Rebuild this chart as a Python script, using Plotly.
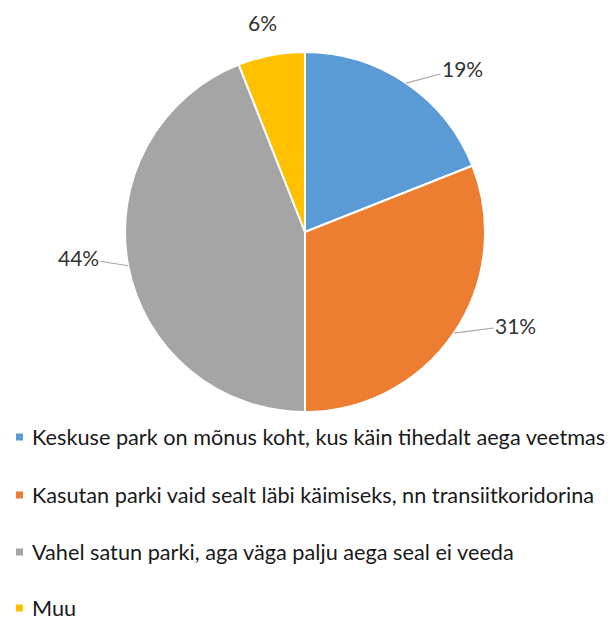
import math
import plotly.graph_objects as go

labels = [
    "Keskuse park on mõnus koht, kus käin tihedalt aega veetmas",
    "Kasutan parki vaid sealt läbi käimiseks, nn transiitkoridorina",
    "Vahel satun parki, aga väga palju aega seal ei veeda",
    "Muu",
]
values = [19, 31, 44, 6]
colors = ["#5B9BD5", "#ED7D31", "#A5A5A5", "#FFC000"]

W, H = 613, 625
cx, cy, R = 305, 232, 180  # pie centre / radius in pixels

fig = go.Figure(go.Pie(
    labels=labels, values=values, sort=False, direction="clockwise", rotation=0,
    marker=dict(colors=colors, line=dict(color="white", width=2)),
    textinfo="none", hoverinfo="label+percent", showlegend=False,
    domain=dict(x=[(cx - R) / W, (cx + R) / W], y=[1 - (cy + R) / H, 1 - (cy - R) / H]),
))

# label offsets (pixels) from slice edge
offsets = [(56, -15), (62, -8), (-50, -8), (-9, -33)]
arrows = [True, True, True, False]
total = sum(values)
cum = 0
anns = []
for v, (ax, ay), arr in zip(values, offsets, arrows):
    mid = (cum + v / 2) / total * 2 * math.pi
    cum += v
    px = cx + R * math.sin(mid)
    py = cy - R * math.cos(mid)
    anns.append(dict(
        x=px / W, y=1 - py / H, xref="paper", yref="paper",
        text=f"{round(v / total * 100)}%", showarrow=True, arrowhead=0,
        arrowwidth=1.2, arrowcolor="#A6A6A6" if arr else "rgba(0,0,0,0)",
        ax=ax, ay=ay, font=dict(family="Lato", size=21, color="#333333"),
    ))

# manual legend
rows = [437, 495, 552, 608]
shapes = []
for lab, col, ry in zip(labels, colors, rows):
    shapes.append(dict(type="rect", xref="paper", yref="paper",
                       x0=16 / W, x1=23 / W, y0=1 - (ry + 3.5) / H, y1=1 - (ry - 3.5) / H,
                       fillcolor=col, line=dict(width=0)))
    anns.append(dict(x=30 / W, y=1 - ry / H, xref="paper", yref="paper",
                     xanchor="left", yanchor="middle", showarrow=False, text=lab,
                     font=dict(family="Lato", size=21.7, color="#1a1a1a")))

fig.update_layout(
    width=W, height=H, margin=dict(l=0, r=0, t=0, b=0),
    paper_bgcolor="white", plot_bgcolor="white",
    annotations=anns, shapes=shapes,
)
fig.write_html("out.html")
